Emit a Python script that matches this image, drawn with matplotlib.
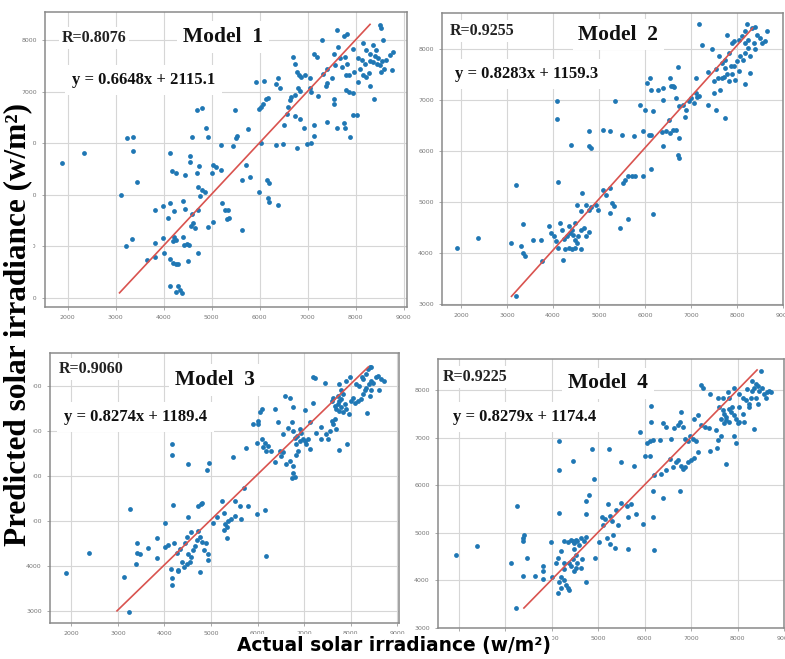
import numpy as np
import matplotlib
matplotlib.use('Agg')
import matplotlib.pyplot as plt

# (actual, predicted) pairs
m1_pts = [
    (1890, 5610), (2350, 5810), (3230, 6100), (3370, 6120), (3370, 5850), (3440, 5260), (3110, 5000),
    (3350, 4150), (3220, 4000), (3650, 3740), (3820, 3790), (3820, 4060), (3990, 4160), (3810, 4710),
    (3990, 4790), (4130, 4850), (4100, 4550), (4220, 4680), (4130, 5810), (4170, 5470), (4250, 5430),
    (4440, 5390), (4550, 5750), (4550, 5630), (4740, 5570), (4690, 5420), (4580, 6130), (4690, 6650),
    (4790, 6680), (4880, 6290), (4930, 6120), (5030, 5580), (5000, 5420), (5100, 5550), (5200, 5480),
    (5200, 5970), (4710, 5160), (4790, 5100), (4760, 4970), (4860, 5060), (4400, 4890), (4440, 4720),
    (4580, 4630), (4610, 4450), (4570, 4390), (4650, 4350), (4720, 4710), (4930, 4370), (5030, 4480),
    (5210, 4840), (5280, 4710), (5310, 4530), (4720, 3870), (4480, 4050), (4530, 4030), (4430, 4030),
    (4410, 4190), (4220, 4190), (4190, 4100), (4250, 4130), (4010, 3880), (4130, 3750), (4200, 3680),
    (4260, 3650), (4300, 3650), (4510, 3710), (4130, 3230), (4300, 3230), (4330, 3160), (4260, 3110),
    (4380, 3090), (5480, 6650), (5760, 6270), (5440, 5940), (5510, 6100), (5520, 6140), (5710, 5580),
    (5640, 5290), (5800, 5350), (5990, 5060), (6150, 5280), (6200, 5230), (6170, 4940), (6200, 4870),
    (6380, 4810), (5640, 4320), (5340, 4710), (5360, 4550), (6030, 6010), (6350, 5970), (6490, 5990),
    (6500, 6350), (6560, 6580), (6590, 6710), (5980, 6660), (6030, 6710), (6070, 6760), (6140, 6870),
    (6170, 6890), (5920, 7190), (6100, 7210), (6340, 7160), (6380, 7260), (6420, 7080), (6630, 6850),
    (6660, 6900), (6730, 6940), (6700, 7680), (6730, 7550), (6770, 7390), (6820, 7320), (6870, 7290),
    (6940, 7320), (6800, 7080), (6840, 7020), (7050, 7080), (7080, 7000), (7050, 7260), (7130, 7740),
    (7190, 7680), (7290, 8000), (6730, 6530), (6840, 6480), (6920, 6290), (7130, 6350), (7130, 6140),
    (7080, 6010), (6980, 5990), (6770, 5910), (7220, 6920), (7400, 6420), (7380, 7110), (7400, 7170),
    (7500, 7260), (7540, 6870), (7550, 6770), (7610, 6290), (7750, 6390), (7780, 6290), (7890, 6130),
    (7940, 6560), (8030, 6560), (7610, 8210), (7750, 8080), (7810, 8120), (7640, 7870), (7540, 7740),
    (7680, 7650), (7780, 7680), (7820, 7550), (7710, 7480), (7570, 7520), (7800, 7320), (7870, 7320),
    (7970, 7390), (8040, 7190), (8150, 7320), (8220, 7290), (8270, 7370), (8290, 7110), (8390, 6870),
    (7800, 7030), (7870, 6990), (7940, 6970), (7940, 7840), (8040, 7650), (8130, 7610), (8150, 7940),
    (8220, 7810), (8290, 7740), (8360, 7900), (8430, 7810), (8460, 7650), (8360, 7580), (8500, 7520),
    (8530, 7390), (8600, 7450), (8640, 7610), (8710, 7710), (8780, 7780), (8760, 7420), (8570, 8000),
    (8500, 8290), (8530, 8230), (7400, 7450), (7330, 7350), (8400, 7700), (8450, 7550), (8550, 7600),
    (8300, 7600), (8200, 7550), (8100, 7450),
]

m2_pts = [
    (1910, 4100), (2370, 4290), (3200, 5340), (3080, 4200), (3310, 4130), (3350, 4000), (3400, 3940),
    (3350, 4560), (3570, 4250), (3750, 4260), (3760, 3840), (3190, 3150), (3920, 4520), (3960, 4390),
    (4030, 4330), (4070, 4230), (4150, 4590), (4190, 4460), (4240, 4270), (4210, 3870), (4100, 4100),
    (4270, 4080), (4340, 4100), (4410, 4080), (4480, 4100), (4620, 4080), (4300, 4330), (4370, 4390),
    (4440, 4360), (4480, 4260), (4520, 4200), (4550, 4330), (4410, 4460), (4340, 4520), (4470, 4590),
    (4610, 4460), (4680, 4490), (4730, 4330), (4780, 4410), (4520, 4950), (4620, 4820), (4640, 5180),
    (4730, 4950), (4780, 4850), (4830, 4900), (4100, 5390), (4400, 6120), (4780, 6090), (4820, 6050),
    (4080, 6970), (4080, 6630), (4780, 6390), (5080, 6410), (4940, 4950), (4970, 4850), (5080, 5240),
    (5150, 5140), (5360, 6970), (5250, 6390), (5500, 6320), (5760, 6300), (5960, 6390), (6090, 6320),
    (6140, 6320), (6360, 6370), (6460, 6390), (6540, 6360), (6610, 6410), (6680, 6410), (6750, 6250),
    (6390, 6090), (6520, 6610), (6710, 5930), (6740, 5860), (5250, 5270), (5520, 5370), (5570, 5440),
    (5640, 5500), (5710, 5510), (5790, 5500), (5960, 5500), (6140, 5650), (5290, 4980), (5320, 4920),
    (5250, 4780), (5450, 4490), (5640, 4670), (6180, 4770), (5890, 6910), (6000, 6810), (6180, 6780),
    (6040, 7330), (6110, 7430), (6140, 7200), (6290, 7200), (6390, 7230), (6390, 6990), (6540, 7430),
    (6570, 7270), (6640, 7250), (6610, 7280), (6710, 7650), (6680, 7040), (6750, 6880), (6820, 6910),
    (6890, 6810), (6880, 6670), (6960, 6970), (7010, 7040), (7070, 6940), (7110, 7140), (7140, 7060),
    (7180, 7080), (7110, 7430), (7360, 7540), (7540, 7600), (7490, 7370), (7590, 7430), (7640, 7200),
    (7510, 7140), (7360, 6910), (7540, 6810), (7750, 6650), (7180, 8480), (7250, 8080), (7460, 7990),
    (7610, 7860), (7680, 7730), (7750, 7630), (7790, 7500), (7710, 7460), (7820, 7370), (7890, 7500),
    (7960, 7400), (8040, 7560), (7750, 7790), (7860, 7660), (7930, 7660), (8000, 7760), (8070, 7860),
    (8140, 7790), (8180, 7920), (8250, 8020), (8290, 7860), (8290, 7530), (8180, 7310), (7680, 7430),
    (7820, 7920), (7890, 8120), (7790, 8280), (7930, 8150), (8040, 8180), (8110, 8250), (8180, 8350),
    (8210, 8480), (8320, 8410), (8390, 8440), (8430, 8280), (8500, 8220), (8540, 8120), (8610, 8150),
    (8660, 8350), (8360, 8120), (8390, 7990), (8180, 8120), (8250, 8180),
]

m3_pts = [
    (1890, 3850), (2370, 4280), (3130, 3760), (3230, 2980), (3260, 5260), (3400, 4510), (3420, 4290),
    (3470, 4260), (3380, 4050), (3650, 4390), (3830, 4610), (3830, 4170), (4020, 4430), (4080, 4460),
    (4210, 4510), (4010, 4960), (4190, 5350), (4170, 6710), (4170, 6470), (4500, 6270), (4910, 6130),
    (4960, 6280), (4150, 3940), (4170, 3720), (4280, 3890), (4170, 3570), (4300, 3910), (4370, 4090),
    (4430, 3980), (4480, 4050), (4260, 4280), (4330, 4370), (4440, 4500), (4480, 4650), (4510, 4260),
    (4570, 4200), (4620, 4350), (4660, 4440), (4690, 4570), (4730, 4780), (4760, 4650), (4810, 4540),
    (4840, 4350), (4890, 4500), (4930, 4260), (4940, 4130), (4580, 4760), (4710, 5320), (4790, 5380),
    (4810, 5390), (4760, 3870), (4550, 4090), (4500, 5090), (5050, 4950), (5120, 5090), (5230, 5430),
    (5270, 5170), (5340, 4870), (5270, 4800), (5480, 6420), (5760, 6610), (5710, 5740), (5510, 5440),
    (5620, 5330), (5640, 5040), (5800, 5330), (5980, 5150), (6160, 5240), (6190, 4220), (5300, 4930),
    (5370, 5000), (5340, 4630), (5440, 5040), (5510, 5110), (5910, 7160), (6010, 7220), (6010, 7150),
    (6050, 7410), (6090, 7480), (6440, 7190), (6370, 7480), (5980, 6740), (6100, 6810), (6160, 6720),
    (6120, 6630), (6190, 6560), (6230, 6670), (6300, 6560), (6370, 6300), (6480, 6560), (6510, 6440),
    (6550, 6520), (6620, 6260), (6690, 6330), (6550, 6930), (6660, 7070), (6730, 7190), (6760, 7000),
    (6800, 6850), (6830, 6700), (6870, 6560), (6830, 6470), (6760, 6220), (6760, 6070), (6800, 5980),
    (6730, 5950), (6590, 7780), (6690, 7730), (6760, 7520), (7010, 7460), (7190, 7610), (6840, 6890),
    (6910, 6780), (6980, 6810), (7010, 6780), (7050, 6700), (7090, 6810), (7120, 6590), (6910, 7040),
    (6940, 6960), (7120, 7190), (7260, 6960), (7370, 7090), (7370, 6810), (7480, 6930), (7510, 6810),
    (7550, 7000), (7620, 7150), (7660, 7260), (7590, 7220), (7690, 7040), (7190, 8200), (7240, 8170),
    (7440, 8070), (7750, 6570), (7930, 6700), (7590, 7670), (7620, 7740), (7660, 7560), (7690, 7480),
    (7730, 7590), (7760, 7440), (7800, 7520), (7840, 7410), (7760, 7670), (7730, 7780), (7800, 7700),
    (7840, 7810), (7870, 7590), (7910, 7480), (7960, 7370), (8010, 7670), (8050, 7740), (8090, 7630),
    (8160, 7670), (8230, 7700), (8260, 7810), (8300, 7900), (8340, 7960), (8390, 8040), (8440, 8110),
    (8480, 8070), (8550, 8190), (8590, 8220), (8660, 8150), (8710, 8100), (8600, 7900), (8440, 7900),
    (8410, 7780), (8350, 7390), (7800, 7900), (7760, 8040), (7910, 8100), (7980, 8190), (8120, 8040),
    (8190, 8000), (8260, 8150), (8340, 8260), (8410, 8410), (8370, 8370), (8440, 8410), (8240, 8200),
]

m4_pts = [
    (1930, 4540), (2380, 4730), (3260, 5560), (3130, 4370), (3240, 3410), (3380, 4100), (3380, 4880),
    (3380, 4820), (3400, 4950), (3470, 4460), (3640, 4100), (3820, 4030), (3820, 4200), (3820, 4310),
    (3990, 4800), (4010, 4070), (4100, 4370), (4130, 4480), (4200, 4610), (4130, 3730), (4200, 3830),
    (4150, 3970), (4200, 4070), (4270, 4000), (4310, 3900), (4340, 3830), (4380, 3800), (4270, 4820),
    (4340, 4800), (4410, 4850), (4450, 4820), (4480, 4780), (4520, 4850), (4550, 4820), (4590, 4750),
    (4620, 4880), (4690, 4820), (4730, 4920), (4480, 4650), (4520, 4540), (4550, 4370), (4450, 4440),
    (4410, 4310), (4480, 4200), (4520, 4270), (4620, 4270), (4660, 4440), (4730, 3970), (4270, 4240),
    (4270, 4370), (4380, 4370), (4150, 6930), (4150, 6310), (4460, 6500), (4870, 6760), (4900, 6140),
    (4800, 5800), (4730, 5670), (4150, 5410), (4730, 5390), (4920, 4460), (5010, 4800), (5080, 5330),
    (5110, 5160), (5140, 5290), (5250, 5360), (5290, 5240), (5180, 4880), (5250, 4770), (5320, 4950),
    (5360, 4680), (5210, 5600), (5390, 5480), (5500, 5630), (5610, 5560), (5710, 5600), (5640, 5340),
    (5820, 5390), (5430, 5160), (5640, 4650), (5960, 5190), (6180, 5340), (6210, 4630), (5240, 6760),
    (5500, 6480), (5770, 6410), (5910, 7110), (6000, 6610), (6110, 6610), (6040, 6890), (6110, 6920),
    (6180, 6940), (6320, 6940), (6140, 7330), (6140, 7670), (6180, 5880), (6390, 5730), (6760, 5880),
    (6210, 6210), (6360, 6240), (6460, 6310), (6540, 6540), (6610, 6380), (6680, 6480), (6790, 6410),
    (6820, 6340), (6860, 6380), (6930, 6480), (7000, 6520), (7070, 6580), (7140, 6690), (6710, 6520),
    (6390, 7300), (6460, 7230), (6570, 6970), (6640, 7200), (6710, 7270), (6750, 7330), (6820, 7230),
    (6860, 6970), (6930, 6930), (6980, 7030), (7040, 6970), (7110, 6930), (6790, 7540), (7070, 7400),
    (7140, 7470), (7210, 7270), (7290, 7230), (7390, 7200), (7540, 7150), (7570, 6950), (7640, 7030),
    (7410, 6720), (7560, 6790), (7760, 6450), (7210, 8100), (7260, 8050), (7410, 7910), (7610, 7640),
    (7680, 7570), (7710, 7500), (7750, 7440), (7760, 7370), (7820, 7330), (7860, 7540), (7810, 7610),
    (7890, 7640), (7930, 7470), (7960, 7400), (8000, 7300), (8040, 7330), (7640, 7400), (7710, 7300),
    (7930, 7030), (7960, 6890), (8110, 7500), (8140, 7330), (8040, 7640), (7570, 7840), (7680, 7840),
    (7790, 7950), (7820, 7840), (7930, 8050), (8040, 7910), (8110, 7840), (8180, 7780), (8240, 7640),
    (8250, 7710), (8290, 7840), (8320, 7980), (8360, 8050), (8390, 8120), (8430, 8080), (8460, 7980),
    (8520, 8050), (8570, 7910), (8610, 7840), (8640, 7950), (8680, 7980), (8710, 7950), (8390, 7840),
    (8430, 7710), (8360, 7180), (8500, 8390), (8320, 8180), (8210, 8010),
]

# red reference line ends (actual, predicted)
line_ends = [
    ([3080, 8300], [3100, 8310]),
    ([3100, 8340], [3150, 8410]),
    ([2980, 8380], [3000, 8420]),
    ([3400, 8420], [3420, 8420]),
]

r_labels = ['R=0.8076', 'R=0.9255', 'R=0.9060', 'R=0.9225']
model_labels = ['Model  1', 'Model  2', 'Model  3', 'Model  4']
equations = ['y = 0.6648x + 2115.1', 'y = 0.8283x + 1159.3',
             'y = 0.8274x + 1189.4', 'y = 0.8279x + 1174.4']
x_ticks = [2000, 3000, 4000, 5000, 6000, 7000, 8000, 9000]
y_ticks = [3000, 4000, 5000, 6000, 7000, 8000]

# layout in pixels: left, top, right, bottom ; axis limits
W, H = 785, 659
boxes = [(45, 12, 407, 307), (442, 13, 783, 305), (50, 353, 399, 623), (438, 359, 784, 628)]
xlims = [(1527, 9070), (1590, 8960), (1540, 9040), (1550, 8980)]
ylims = [(2825, 8550), (2980, 8705), (2730, 8730), (3155, 8650)]
r_pos = [(0.047, 0.912), (0.023, 0.938), (0.026, 0.94), (0.014, 0.933)]
model_pos = [(0.381, 0.915), (0.40, 0.925), (0.358, 0.90), (0.376, 0.91)]
eq_pos = [(0.075, 0.77), (0.038, 0.79), (0.04, 0.763), (0.043, 0.784)]

serif = 'Liberation Serif'
fig = plt.figure(figsize=(W / 100, H / 100), dpi=100)
fig.patch.set_facecolor('white')

all_pts = [m1_pts, m2_pts, m3_pts, m4_pts]
for i in range(4):
    l, t, r, b = boxes[i]
    ax = fig.add_axes([l / W, 1 - b / H, (r - l) / W, (b - t) / H])
    pts = np.array(all_pts[i])
    ax.scatter(pts[:, 0], pts[:, 1], s=12, color='#1f77b4', linewidths=0, zorder=2)
    lx, ly = line_ends[i]
    ax.plot(lx, ly, color='#d9534f', lw=1.2, zorder=3)
    ax.set_xlim(*xlims[i])
    ax.set_ylim(*ylims[i])
    ax.set_xticks(x_ticks)
    ax.set_yticks(y_ticks)
    ax.tick_params(labelsize=4.5, labelcolor='#777777', length=2, width=0.5, color='#888888', pad=4)
    ax.grid(True, color='#d6d6d6', lw=0.8)
    ax.set_axisbelow(True)
    for sp in ax.spines.values():
        sp.set_color('#8a8a8a')
        sp.set_linewidth(1.1)

    box = dict(facecolor='white', edgecolor='none', pad=2)
    ax.text(*r_pos[i], r_labels[i], transform=ax.transAxes, fontsize=11.5, fontweight='bold',
            family=serif, va='center', ha='left', color='#222222', bbox=box, zorder=4)
    ax.text(*model_pos[i], model_labels[i], transform=ax.transAxes, fontsize=15.5, fontweight='bold',
            family=serif, va='center', ha='left', color='#111111',
            bbox=dict(facecolor='white', edgecolor='none', pad=4), zorder=4)
    ax.text(*eq_pos[i], equations[i], transform=ax.transAxes, fontsize=12, fontweight='bold',
            family=serif, va='center', ha='left', color='#111111',
            bbox=dict(facecolor='white', edgecolor='none', pad=5), zorder=4)

fig.text(18 / W, 1 - 324 / H, 'Predicted solar irradiance (w/m²)', rotation=90, fontsize=22.5,
         fontweight='bold', family=serif, ha='center', va='center',
         bbox=dict(facecolor='white', edgecolor='none', pad=0.5))
fig.text(394 / W, 1 - 645 / H, 'Actual solar irradiance (w/m²)', fontsize=13.4,
         fontweight='bold', family='DejaVu Sans', ha='center', va='center',
         bbox=dict(facecolor='white', edgecolor='none', pad=1))

fig.savefig('out.png', dpi=100, facecolor='white')
